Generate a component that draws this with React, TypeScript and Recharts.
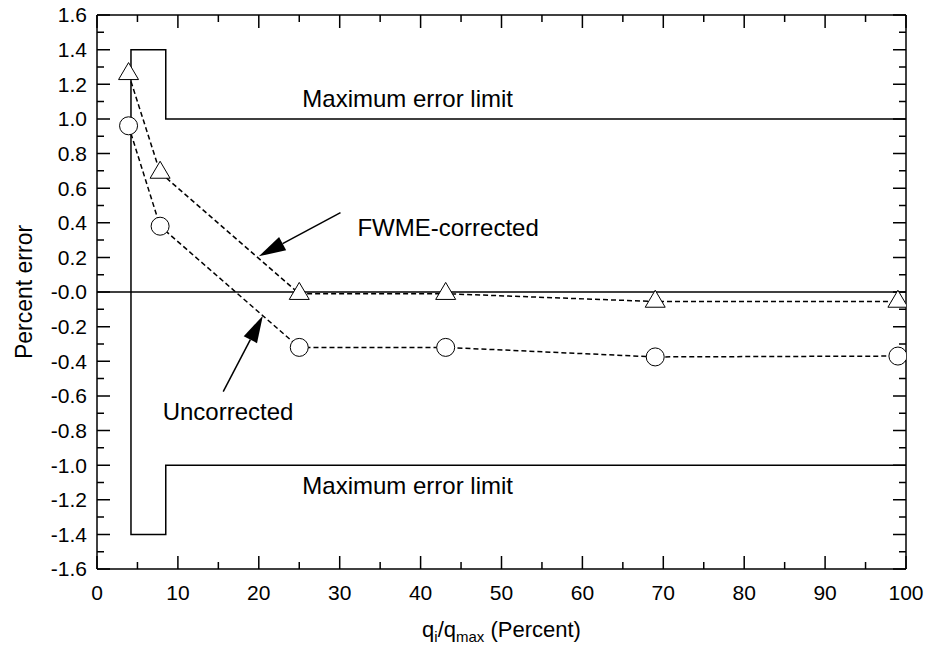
import React from 'react';
import { ComposedChart, Scatter, XAxis, YAxis, ReferenceLine } from 'recharts';

const FONT = '"Liberation Sans", Arial, Helvetica, sans-serif';

// flow points, percent of q_max
const flowPct = [3.9, 7.8, 25, 43.1, 69, 99];
const fwmeCorrected = [1.26, 0.69, -0.01, -0.01, -0.055, -0.055];
const uncorrected = [0.96, 0.38, -0.32, -0.32, -0.375, -0.37];

// maximum error limit outline (wider band at low flow)
const limitX = [100, 8.5, 8.5, 4.2, 4.2, 8.5, 8.5, 100];
const limitY = [1.0, 1.0, 1.4, 1.4, -1.4, -1.4, -1.0, -1.0];

const xMajor = [0, 10, 20, 30, 40, 50, 60, 70, 80, 90, 100];
const xMinor = [5, 15, 25, 35, 45, 55, 65, 75, 85, 95];
const yMajor = [-1.6, -1.4, -1.2, -1.0, -0.8, -0.6, -0.4, -0.2, 0, 0.2, 0.4, 0.6, 0.8, 1.0, 1.2, 1.4, 1.6];
const yMinor = [-1.5, -1.3, -1.1, -0.9, -0.7, -0.5, -0.3, -0.1, 0.1, 0.3, 0.5, 0.7, 0.9, 1.1, 1.3, 1.5];

const noteText = ['Maximum error limit', 'Maximum error limit', 'FWME-corrected', 'Uncorrected'];
const noteX = [38.4, 38.4, 43.4, 16.2];
const noteY = [1.12, -1.12, 0.373, -0.692];

// annotation arrows: tail -> tip
const arrowFrom = [{ x: 30.1, y: 0.458 }, { x: 15.6, y: -0.576 }];
const arrowTo = [{ x: 20.0, y: 0.206 }, { x: 20.5, y: -0.137 }];

const toPoints = (xs: number[], ys: number[]) => xs.map((x, i) => ({ x, y: ys[i] }));
const correctedData = toPoints(flowPct, fwmeCorrected);
const uncorrectedData = toPoints(flowPct, uncorrected);
const limitData = toPoints(limitX, limitY);

const fmtY = (v: number) => (v === 0 ? '-0.0' : v.toFixed(1));

const axisStroke = { stroke: '#000', strokeWidth: 1.5 };
const tickFont = { fontSize: 21, fontFamily: FONT, fill: '#000' };

// inward frame ticks at both ends of a reference line through the tick value
const hTicks = (len: number) => (p: any) => {
  const l = Math.min(p.x1, p.x2);
  const r = Math.max(p.x1, p.x2);
  return (
    <path d={`M${l},${p.y1}L${l + len},${p.y1}M${r - len},${p.y1}L${r},${p.y1}`} stroke="#000" strokeWidth={1.5} fill="none" />
  );
};

const vTicks = (len: number) => (p: any) => {
  const t = Math.min(p.y1, p.y2);
  const b = Math.max(p.y1, p.y2);
  return (
    <path d={`M${p.x1},${t}L${p.x1},${t + len}M${p.x1},${b - len}L${p.x1},${b}`} stroke="#000" strokeWidth={1.5} fill="none" />
  );
};

const FrameLine = (p: any) => (
  <path d={`M${p.x1},${p.y1}L${p.x2},${p.y2}`} stroke="#000" strokeWidth={1.5} fill="none" />
);

const Circle = ({ cx, cy }: any) => (
  <circle cx={cx} cy={cy} r={9} fill="#fff" stroke="#000" strokeWidth={1} />
);

const Triangle = ({ cx, cy }: any) => (
  <polygon
    points={`${cx},${cy - 11.3} ${cx - 10},${cy + 5.7} ${cx + 10},${cy + 5.7}`}
    fill="#fff"
    stroke="#000"
    strokeWidth={1}
  />
);

const NoMark = () => <g />;

const Arrow = ({ x1, y1, x2, y2 }: any) => {
  const dx = x2 - x1;
  const dy = y2 - y1;
  const len = Math.sqrt(dx * dx + dy * dy);
  const ux = dx / len;
  const uy = dy / len;
  const bx = x2 - ux * 27;
  const by = y2 - uy * 27;
  const w = 7.5;
  return (
    <g>
      <line x1={x1} y1={y1} x2={bx} y2={by} stroke="#000" strokeWidth={1.5} />
      <polygon
        points={`${x2},${y2} ${bx - uy * w},${by + ux * w} ${bx + uy * w},${by - ux * w}`}
        fill="#000"
      />
    </g>
  );
};

const noteShape = (t: string) => (p: any) => (
  <text
    x={p.x1}
    y={p.y1}
    textAnchor="middle"
    dominantBaseline="central"
    fontSize={24}
    fontFamily={FONT}
    fill="#000"
  >
    {t}
  </text>
);

const XTitle = ({ viewBox }: any) => {
  const cx = viewBox.x + viewBox.width / 2;
  return (
    <text x={cx} y={637} textAnchor="middle" fontSize={22} fontFamily={FONT} fill="#000">
      <tspan>q</tspan>
      <tspan dy={5} fontSize={15}>i</tspan>
      <tspan dy={-5}>/q</tspan>
      <tspan dy={5} fontSize={15}>max</tspan>
      <tspan dy={-5}> (Percent)</tspan>
    </text>
  );
};

const YTitle = ({ viewBox }: any) => {
  const cy = viewBox.y + viewBox.height / 2;
  return (
    <text
      x={24}
      y={cy}
      transform={`rotate(-90, 24, ${cy})`}
      textAnchor="middle"
      dominantBaseline="central"
      fontSize={23}
      fontFamily={FONT}
      fill="#000"
    >
      Percent error
    </text>
  );
};

export default function App() {
  return (
    <div style={{ position: 'absolute', left: 0, top: 0, background: '#fff' }}>
      <ComposedChart width={927} height={647} margin={{ top: 15, right: 21, bottom: 38, left: 37 }}>
        <XAxis
          xAxisId="x"
          dataKey="x"
          type="number"
          domain={[0, 100]}
          ticks={xMajor}
          interval={0}
          allowDataOverflow
          height={40}
          tickSize={0}
          tickMargin={16}
          tickLine={false}
          axisLine={axisStroke}
          tick={tickFont}
          label={<XTitle />}
        />
        <YAxis
          yAxisId="y"
          dataKey="y"
          type="number"
          domain={[-1.6, 1.6]}
          ticks={yMajor}
          interval={0}
          allowDataOverflow
          width={60}
          tickSize={0}
          tickMargin={10}
          tickLine={false}
          axisLine={axisStroke}
          tick={tickFont}
          tickFormatter={fmtY}
          label={<YTitle />}
        />
        {/* top and right edges of the frame */}
        <ReferenceLine xAxisId="x" yAxisId="y" y={1.6} ifOverflow="visible" shape={FrameLine} />
        <ReferenceLine xAxisId="x" yAxisId="y" x={100} ifOverflow="visible" shape={FrameLine} />
        {xMajor.map((v) => (
          <ReferenceLine key={`xM${v}`} xAxisId="x" yAxisId="y" x={v} ifOverflow="visible" shape={vTicks(13)} />
        ))}
        {xMinor.map((v) => (
          <ReferenceLine key={`xm${v}`} xAxisId="x" yAxisId="y" x={v} ifOverflow="visible" shape={vTicks(7)} />
        ))}
        {yMajor.map((v) => (
          <ReferenceLine key={`yM${v}`} xAxisId="x" yAxisId="y" y={v} ifOverflow="visible" shape={hTicks(13)} />
        ))}
        {yMinor.map((v) => (
          <ReferenceLine key={`ym${v}`} xAxisId="x" yAxisId="y" y={v} ifOverflow="visible" shape={hTicks(7)} />
        ))}
        <ReferenceLine xAxisId="x" yAxisId="y" y={0} ifOverflow="visible" shape={FrameLine} />
        <Scatter
          xAxisId="x"
          yAxisId="y"
          data={limitData}
          line={{ stroke: '#000', strokeWidth: 1.5, fill: 'none' }}
          shape={<NoMark />}
          isAnimationActive={false}
        />
        <Scatter
          xAxisId="x"
          yAxisId="y"
          data={uncorrectedData}
          line={{ stroke: '#000', strokeWidth: 1.5, strokeDasharray: '5 3', fill: 'none' }}
          shape={<Circle />}
          isAnimationActive={false}
        />
        <Scatter
          xAxisId="x"
          yAxisId="y"
          data={correctedData}
          line={{ stroke: '#000', strokeWidth: 1.5, strokeDasharray: '5 3', fill: 'none' }}
          shape={<Triangle />}
          isAnimationActive={false}
        />
        {arrowFrom.map((from, i) => (
          <ReferenceLine
            key={`arrow-${i}`}
            xAxisId="x"
            yAxisId="y"
            segment={[from, arrowTo[i]]}
            ifOverflow="visible"
            shape={(p: any) => <Arrow {...p} />}
          />
        ))}
        {noteText.map((t, i) => (
          <ReferenceLine
            key={`note-${i}`}
            xAxisId="x"
            yAxisId="y"
            segment={[{ x: noteX[i], y: noteY[i] }, { x: noteX[i], y: noteY[i] }]}
            ifOverflow="visible"
            shape={noteShape(t)}
          />
        ))}
      </ComposedChart>
    </div>
  );
}
